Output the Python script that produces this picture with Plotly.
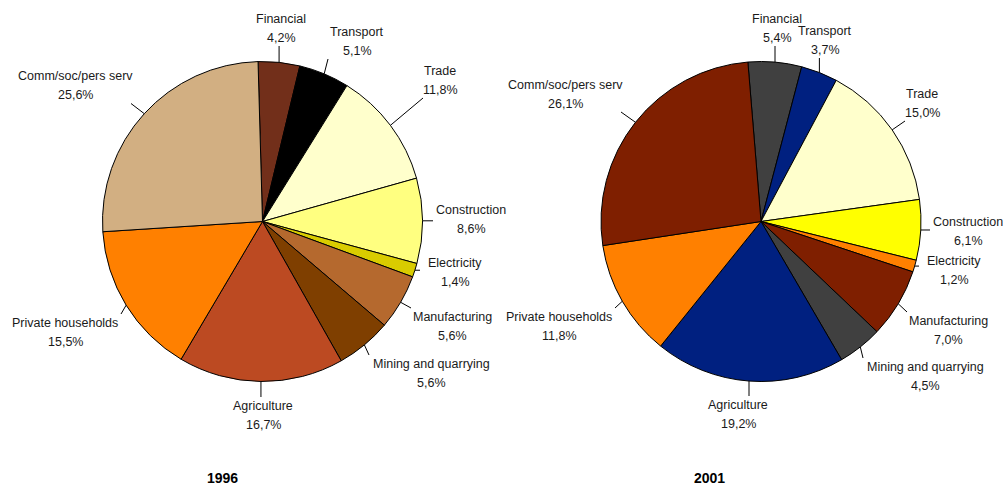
import math
import plotly.graph_objects as go

# ---- data ----
sectors = ["Financial", "Transport", "Trade", "Construction", "Electricity",
           "Manufacturing", "Mining and quarrying", "Agriculture",
           "Private households", "Comm/soc/pers serv"]
share_1996 = [4.2, 5.1, 11.8, 8.6, 1.4, 5.6, 5.6, 16.7, 15.5, 25.6]
share_2001 = [5.4, 3.7, 15.0, 6.1, 1.2, 7.0, 4.5, 19.2, 11.8, 26.1]
years = ["1996", "2001"]

# ---- styles ----
colors_1996 = ["#722F1A", "#000000", "#FFFFCC", "#FFFF80", "#D9CC00",
               "#B5692E", "#7F3F00", "#BC4A22", "#FF8000", "#D2AF82"]
colors_2001 = ["#404040", "#002080", "#FFFFCC", "#FFFF00", "#FF8000",
               "#7F1F00", "#404040", "#002080", "#FF8000", "#7F1F00"]

W, H = 1003, 485
R = 160
pies = [
    dict(values=share_1996, colors=colors_1996, cx=262.5, cy=221.5, rot=-1.6,
         title_x=222,
         # label text centres (px)
         label_pos=[(281, 28), (357, 41), (440, 80), (471, 219), (455, 272),
                    (452, 326), (431, 373), (263, 415), (65, 332), (75, 85.5)]),
    dict(values=share_2001, colors=colors_2001, cx=761, cy=221.5, rot=-4.7,
         title_x=709,
         label_pos=[(777, 28), (825, 40), (922, 103), (968, 231), (954, 270),
                    (948, 330), (925, 376), (738, 414), (559, 326), (565, 94)]),
]

FONT = "Liberation Sans, Arial, sans-serif"
FS = 12.5
LINE_GAP = 19

fig = go.Figure()
shapes = []
annotations = []


def text_w(s):
    return len(s) * 6.0


for p in pies:
    fig.add_trace(go.Pie(
        labels=sectors, values=p["values"], sort=False, direction="clockwise",
        rotation=p["rot"], textinfo="none", hoverinfo="label+percent",
        marker=dict(colors=p["colors"], line=dict(color="#000000", width=1)),
        domain=dict(x=[(p["cx"] - R) / W, (p["cx"] + R) / W],
                    y=[1 - (p["cy"] + R) / H, 1 - (p["cy"] - R) / H]),
        showlegend=False,
    ))
    total = sum(p["values"])
    cum = 0.0
    for name, v, (lx, ly) in zip(sectors, p["values"], p["label_pos"]):
        mid = (cum + v / 2) / total * 360 + p["rot"]
        cum += v
        a = math.radians(mid)
        ex = p["cx"] + R * math.sin(a)
        ey = p["cy"] - R * math.cos(a)
        pct = f"{v:.1f}".replace(".", ",") + "%"
        hw = max(text_w(name), text_w(pct)) / 2 + 2
        hh = 18
        # nearest point of label box to the slice edge point
        nx = min(max(ex, lx - hw), lx + hw)
        ny = min(max(ey, ly - hh), ly + hh)
        shapes.append(dict(type="line", xref="x", yref="y", x0=ex, y0=ey,
                           x1=nx, y1=ny, line=dict(color="#000000", width=1)))
        for t, dy in ((name, -LINE_GAP / 2), (pct, LINE_GAP / 2)):
            annotations.append(dict(x=lx, y=ly + dy, xref="x", yref="y", text=t,
                                    showarrow=False, align="center",
                                    xanchor="center", yanchor="middle",
                                    font=dict(family=FONT, size=FS, color="#1a1a1a")))

for p, yr in zip(pies, years):
    annotations.append(dict(x=p["title_x"], y=478, xref="x", yref="y",
                            text=f"<b>{yr}</b>", showarrow=False,
                            xanchor="center", yanchor="middle",
                            font=dict(family=FONT, size=14, color="#000000")))

fig.update_layout(
    width=W, height=H, margin=dict(l=0, r=0, t=0, b=0),
    paper_bgcolor="#FFFFFF", plot_bgcolor="rgba(0,0,0,0)",
    xaxis=dict(range=[0, W], visible=False, fixedrange=True),
    yaxis=dict(range=[H, 0], visible=False, fixedrange=True),
    shapes=shapes, annotations=annotations,
)

fig.write_html("out.html", config={"displayModeBar": False},
               post_script="document.body.style.margin='0';document.body.style.overflow='hidden';")
